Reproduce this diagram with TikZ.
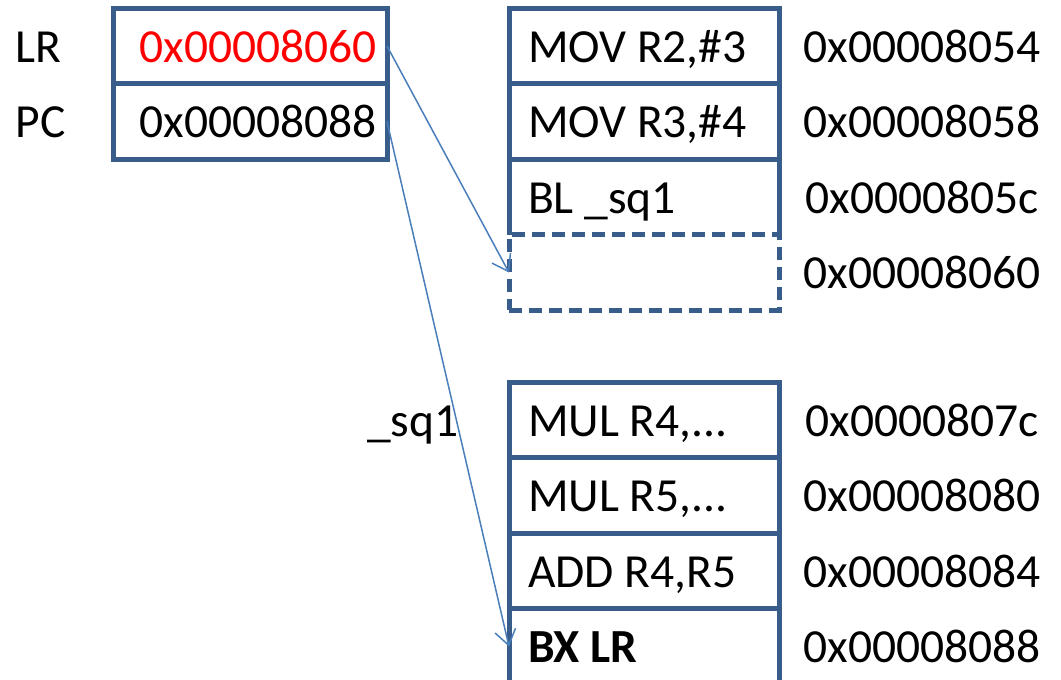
\documentclass[tikz,border=0pt]{standalone}
\usepackage{fontspec}
\setmainfont{Carlito}
\usetikzlibrary{arrows.meta}
\definecolor{boxblue}{HTML}{385D8A}
\definecolor{ptrblue}{HTML}{4A7EBB}
\definecolor{hotred}{HTML}{FF0000}
% cell contents: left-aligned code, right-aligned register values
\newcommand{\codetext}[1]{\makebox[232pt][l]{#1}}
\newcommand{\regtext}[1]{\makebox[254pt][r]{#1}}
\begin{document}
\begin{tikzpicture}[x=1pt,y=-1pt,
  every node/.style={font=\fontsize{47.5}{56}\selectfont,text height=32pt,text depth=0pt},
  cellshape/.style={rectangle,inner sep=0pt,outer sep=0pt,minimum height=75.5pt,line width=5pt},
  regcell/.style={cellshape,draw=boxblue,minimum width=274pt},
  memcell/.style={cellshape,minimum width=270pt},
  solidcell/.style={memcell,draw=boxblue},
  slotcell/.style={memcell,draw=boxblue,dash pattern=on 13pt off 7pt},
  cellrule/.style={line width=5pt,draw=boxblue},
  addr/.style={anchor=center},
  ptr/.style={draw=ptrblue,line width=1.5pt,-{Straight Barb[length=15pt,width=21pt]}}
]
\useasboundingbox (0,0) rectangle (1061,680);

% registers
\node[regcell,text=hotred] (lrv) at (250,46) {\regtext{0x00008060}};
\node[regcell] (pcv) at (250,121.5) {\regtext{0x00008088}};
\node[anchor=west] (lrname) at (12,46) {LR};
\node[anchor=west] (pcname) at (12,121.5) {PC};

% caller code
\node[solidcell] (m1) at (644,46) {\codetext{MOV R2,\#3}};
\node[solidcell] (m2) at (644,121.5) {\codetext{MOV R3,\#4}};
\node[memcell] (m3) at (644,197) {\codetext{BL \_sq1}};
\draw[cellrule] (m3.south west) -- (m3.north west) -- (m3.north east) -- (m3.south east);
\node[slotcell] (slot) at (644,272.5) {};

\node[addr] (a1) at (922,46) {0x00008054};
\node[addr] (a2) at (922,121.5) {0x00008058};
\node[addr] (a3) at (922,197) {0x0000805c};
\node[addr] (a4) at (922,272.5) {0x00008060};

% subroutine
\node[anchor=east] (sqlabel) at (462,420) {\_sq1};
\node[solidcell] (s1) at (644,420) {\codetext{MUL R4,...}};
\node[solidcell] (s2) at (644,495.5) {\codetext{MUL R5,...}};
\node[solidcell] (s3) at (644,571) {\codetext{ADD R4,R5}};
\node[solidcell] (s4) at (644,646.5) {\codetext{\textbf{BX LR}}};

\node[addr] (b1) at (922,420) {0x0000807c};
\node[addr] (b2) at (922,495.5) {0x00008080};
\node[addr] (b3) at (922,571) {0x00008084};
\node[addr] (b4) at (922,646.5) {0x00008088};

% pointers
\draw[ptr] (lrv.east) -- (slot.west);
\draw[ptr] (pcv.east) -- (s4.west);
\end{tikzpicture}
\end{document}
